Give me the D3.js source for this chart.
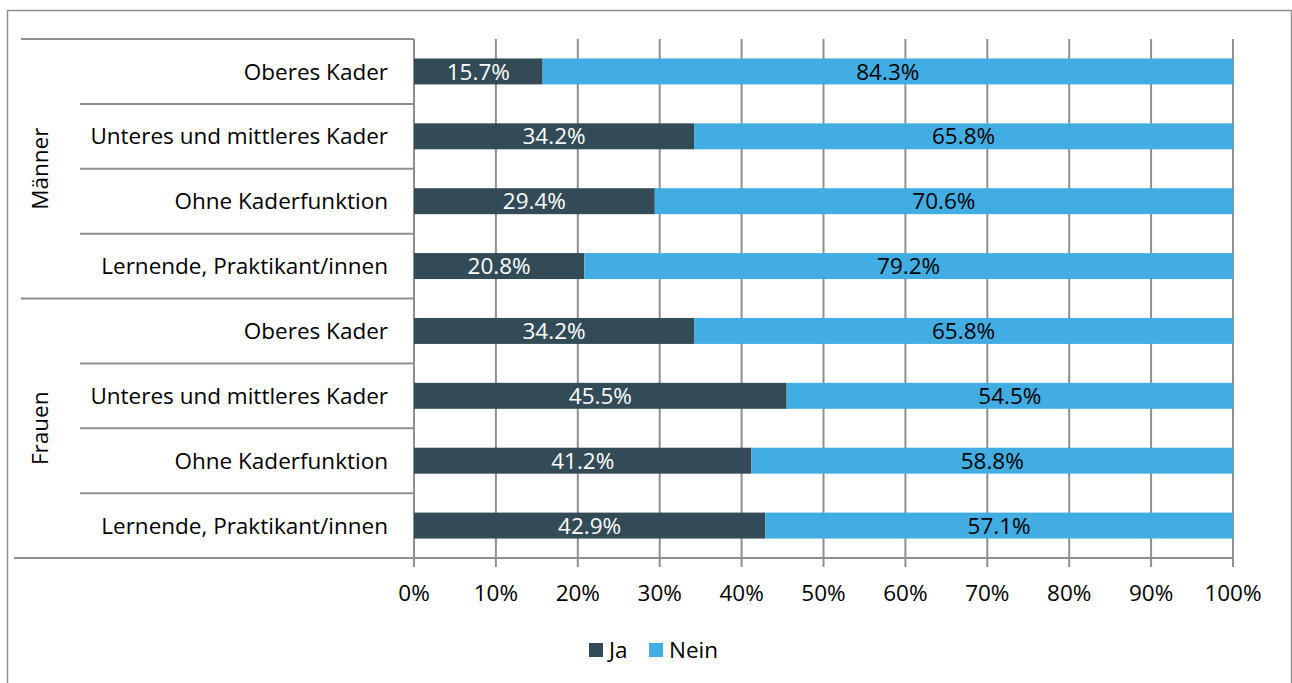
<!DOCTYPE html>
<html>
<head>
<meta charset="utf-8">
<script src="https://cdn.jsdelivr.net/npm/d3@7"></script>
<style>
  body { margin: 0; background: #fff; }
  svg text { font-family: "Open Sans", Lato, sans-serif; }
</style>
</head>
<body>
<svg id="chart" width="1292" height="683"></svg>
<script>
const groups = ["Männer", "Frauen"];
const categories = ["Oberes Kader", "Unteres und mittleres Kader", "Ohne Kaderfunktion", "Lernende, Praktikant/innen"];
const ja = [15.7, 34.2, 29.4, 20.8, 34.2, 45.5, 41.2, 42.9];
const nein = [84.3, 65.8, 70.6, 79.2, 65.8, 54.5, 58.8, 57.1];
const seriesNames = ["Ja", "Nein"];
const xTicks = [0, 10, 20, 30, 40, 50, 60, 70, 80, 90, 100];

const rows = [];
groups.forEach((g, gi) => categories.forEach((c, ci) => {
  const i = gi * categories.length + ci;
  rows.push({ key: g + "|" + c, group: g, cat: c, Ja: ja[i], Nein: nein[i] });
}));

const svg = d3.select("#chart");
const margin = { top: 39, left: 414, right: 59, bottom: 125 };
const width = 1292 - margin.left - margin.right;
const height = 683 - margin.top - margin.bottom;
const gridColor = "#8f8f8f";
const colors = { Ja: "#334b57", Nein: "#42ade2" };
const fs = 22.5;

// outer frame
svg.append("rect")
  .attr("x", 7.5).attr("y", 10.5)
  .attr("width", 1284).attr("height", 690)
  .attr("fill", "none").attr("stroke", "#8f8f8f").attr("stroke-width", 1.5);

const g = svg.append("g").attr("transform", `translate(${margin.left},${margin.top})`);

const x = d3.scaleLinear().domain([0, 100]).range([0, width]);
const y = d3.scaleBand().domain(rows.map(d => d.key)).range([0, height]).paddingInner(0.6).paddingOuter(0.3);
const step = y.step();

// vertical gridlines
g.selectAll(".grid").data(xTicks).enter().append("line")
  .attr("x1", d => x(d)).attr("x2", d => x(d))
  .attr("y1", 0).attr("y2", height + 9)
  .attr("stroke", gridColor).attr("stroke-width", 2);

const stack = d3.stack().keys(seriesNames);
const series = stack(rows);

g.selectAll(".serie").data(series).enter().append("g")
  .attr("fill", d => colors[d.key])
  .selectAll("rect").data(d => d).enter().append("rect")
  .attr("x", d => x(d[0]))
  .attr("y", d => y(d.data.key))
  .attr("width", d => x(d[1]) - x(d[0]))
  .attr("height", y.bandwidth());

// value labels
series.forEach(s => {
  g.selectAll(".lbl-" + s.key).data(s).enter().append("text")
    .attr("x", d => (x(d[0]) + x(d[1])) / 2)
    .attr("y", d => y(d.data.key) + y.bandwidth() / 2)
    .attr("dy", "0.36em")
    .attr("text-anchor", "middle")
    .attr("font-size", fs)
    .attr("fill", s.key === "Ja" ? "#fff" : "#000")
    .text(d => d.data[s.key].toFixed(1) + "%");
});

// x axis
g.append("line")
  .attr("x1", -400).attr("x2", width)
  .attr("y1", height).attr("y2", height)
  .attr("stroke", gridColor).attr("stroke-width", 2);
g.selectAll(".xt").data(xTicks).enter().append("text")
  .attr("x", d => x(d)).attr("y", height + 35)
  .attr("dy", "0.36em")
  .attr("text-anchor", "middle")
  .attr("font-size", fs)
  .attr("fill", "#000")
  .text(d => d + "%");

// category separators and labels
rows.forEach((d, i) => {
  const top = i * step;
  const isGroupStart = i % categories.length === 0;
  g.append("line")
    .attr("x1", isGroupStart ? -393 : -334).attr("x2", 0)
    .attr("y1", top).attr("y2", top)
    .attr("stroke", gridColor).attr("stroke-width", 2);
  g.append("text")
    .attr("x", -26).attr("y", top + step / 2)
    .attr("dy", "0.36em")
    .attr("text-anchor", "end")
    .attr("font-size", fs)
    .attr("fill", "#000")
    .text(d.cat);
});

// group labels
groups.forEach((grp, gi) => {
  const cy = (gi * categories.length + categories.length / 2) * step;
  g.append("text")
    .attr("transform", `translate(${-374},${cy}) rotate(-90)`)
    .attr("dy", "0.36em")
    .attr("text-anchor", "middle")
    .attr("font-size", fs)
    .attr("fill", "#000")
    .text(grp);
});

// legend
const legend = svg.append("g").attr("transform", "translate(589,643)");
const items = [{ name: "Ja", x: 0 }, { name: "Nein", x: 60 }];
items.forEach(it => {
  legend.append("rect").attr("x", it.x).attr("y", 0).attr("width", 14).attr("height", 14)
    .attr("fill", colors[it.name]);
  legend.append("text").attr("x", it.x + 20).attr("y", 7).attr("dy", "0.36em")
    .attr("font-size", fs).attr("fill", "#000").text(it.name);
});
</script>
</body>
</html>
